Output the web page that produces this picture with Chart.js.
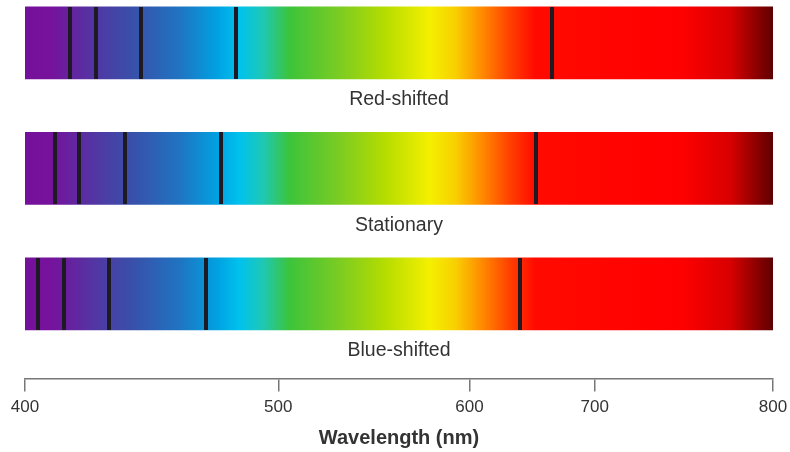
<!DOCTYPE html>
<html>
<head>
<meta charset="utf-8">
<script src="https://cdn.jsdelivr.net/npm/chart.js@4"></script>
<style>
  html, body { margin: 0; padding: 0; background: #fff; }
  .chart { position: relative; width: 790px; height: 452px; }
</style>
</head>
<body>
<div class="chart"><canvas id="spectra"></canvas></div>
<script>
// rows of the figure, top to bottom
const rowNames = ["Red-shifted", "Stationary", "Blue-shifted"];
// visible range of each spectrum (nm)
const spectrumRange = [400, 800];
// absorption lines (nm)
const redShiftedLines = [417.8, 428.1, 445.8, 483.4, 665.6];
const stationaryLines = [411.9, 421.3, 439.3, 477.4, 652.8];
const blueShiftedLines = [405.1, 415.4, 433.2, 471.4, 640.0];
// axis ticks (nm) and where each sits along the axis (the scale is not linear)
const tickValues = [400, 500, 600, 700, 800];
const tickFractions = [0, 0.3386, 0.5943, 0.7617, 1];

const lineRows = [redShiftedLines, stationaryLines, blueShiftedLines];

// piecewise linear scale so the ticks land where they do in the figure
class SpectralScale extends Chart.LinearScale {
  static id = "spectral";
  static defaults = Chart.LinearScale.defaults;

  getPixelForValue(value) {
    if (value === null || value === undefined) return NaN;
    let i = 0;
    while (i < tickValues.length - 2 && value > tickValues[i + 1]) i++;
    const t = (value - tickValues[i]) / (tickValues[i + 1] - tickValues[i]);
    const dec = tickFractions[i] + t * (tickFractions[i + 1] - tickFractions[i]);
    return this.getPixelForDecimal(dec);
  }

  getValueForPixel(pixel) {
    const dec = this.getDecimalForPixel(pixel);
    let i = 0;
    while (i < tickFractions.length - 2 && dec > tickFractions[i + 1]) i++;
    const t = (dec - tickFractions[i]) / (tickFractions[i + 1] - tickFractions[i]);
    return tickValues[i] + t * (tickValues[i + 1] - tickValues[i]);
  }
}
Chart.register(SpectralScale);

// colour stops across the spectrum bar
const spectrumStops = [
  [0, "#75109a"],
  [0.035, "#76129c"],
  [0.1, "#4e3aa4"],
  [0.14, "#3a4ea8"],
  [0.207, "#1f74c2"],
  [0.258, "#00a2e2"],
  [0.287, "#00c2ee"],
  [0.318, "#1ec8b4"],
  [0.354, "#3cc43a"],
  [0.421, "#7ccc22"],
  [0.481, "#b5dc00"],
  [0.541, "#f4f000"],
  [0.575, "#f8d000"],
  [0.608, "#ff9000"],
  [0.648, "#ff4000"],
  [0.682, "#ff0a00"],
  [0.876, "#ff0000"],
  [0.943, "#d80000"],
  [1, "#5e0000"],
];

let gradientCache;
function spectrumFill(context) {
  const area = context.chart.chartArea;
  if (!area) return "#ff0000";
  const key = area.left + ":" + area.right;
  if (!gradientCache || gradientCache.key !== key) {
    const g = context.chart.ctx.createLinearGradient(area.left, 0, area.right, 0);
    spectrumStops.forEach(([at, color]) => g.addColorStop(at, color));
    gradientCache = { key, g };
  }
  return gradientCache.g;
}

// a dark 4x72 stroke used as the point style, so the absorption lines
// don't make Chart.js pad the chart area for big point radii
const lineMark = document.createElement("canvas");
lineMark.width = 4;
lineMark.height = 72;
const lineCtx = lineMark.getContext("2d");
lineCtx.fillStyle = "#1d1a24";
lineCtx.fillRect(0, 0, 4, 72);

// row names written under each bar
const rowLabels = {
  id: "rowLabels",
  afterDatasetsDraw(chart) {
    const { ctx, chartArea, scales } = chart;
    ctx.save();
    ctx.font = "19.5px 'Liberation Sans', Arial, sans-serif";
    ctx.fillStyle = "#333";
    ctx.textAlign = "center";
    ctx.textBaseline = "middle";
    rowNames.forEach((name, i) => {
      const y = scales.y.getPixelForValue(i) + 57;
      ctx.fillText(name, (chartArea.left + chartArea.right) / 2, y);
    });
    ctx.restore();
  },
};

new Chart(document.getElementById("spectra"), {
  type: "bar",
  data: {
    datasets: [
      {
        type: "scatter",
        order: 0,
        data: lineRows.flatMap((row, i) => row.map((nm) => ({ x: nm, y: i }))),
        pointStyle: lineMark,
        pointRadius: 1,
        pointHoverRadius: 1,
        borderWidth: 0,
      },
      {
        type: "bar",
        order: 1,
        indexAxis: "y",
        data: rowNames.map((_, i) => ({ x: spectrumRange, y: i })),
        backgroundColor: spectrumFill,
        borderWidth: 0,
        barThickness: 72,
      },
    ],
  },
  options: {
    responsive: true,
    maintainAspectRatio: false,
    animation: false,
    events: [],
    layout: { padding: { left: 25, right: 17, top: 0, bottom: 2 } },
    plugins: { legend: { display: false }, tooltip: { enabled: false } },
    scales: {
      x: {
        type: "spectral",
        min: 400,
        max: 800,
        offset: false,
        afterBuildTicks(scale) {
          scale.ticks = tickValues.map((v) => ({ value: v }));
        },
        // end labels may hang into the page margin, as in the figure
        afterFit(scale) {
          scale.paddingLeft = 0;
          scale.paddingRight = 0;
        },
        grid: {
          offset: false,
          drawOnChartArea: false,
          drawTicks: true,
          tickLength: 13,
          color: "#777",
          lineWidth: 1.5,
        },
        border: { display: true, color: "#777", width: 1.5 },
        ticks: {
          color: "#333",
          padding: 6,
          maxRotation: 0,
          autoSkip: false,
          font: { family: "'Liberation Sans', Arial, sans-serif", size: 17 },
        },
        title: {
          display: true,
          text: "Wavelength (nm)",
          color: "#333",
          padding: { top: 2, bottom: 0 },
          font: { family: "'Liberation Sans', Arial, sans-serif", size: 20, weight: "bold" },
        },
      },
      y: {
        type: "linear",
        display: false,
        offset: false,
        grid: { offset: false },
        reverse: true,
        min: -0.333,
        max: 2.675,
      },
    },
  },
  plugins: [rowLabels],
});
</script>
</body>
</html>
